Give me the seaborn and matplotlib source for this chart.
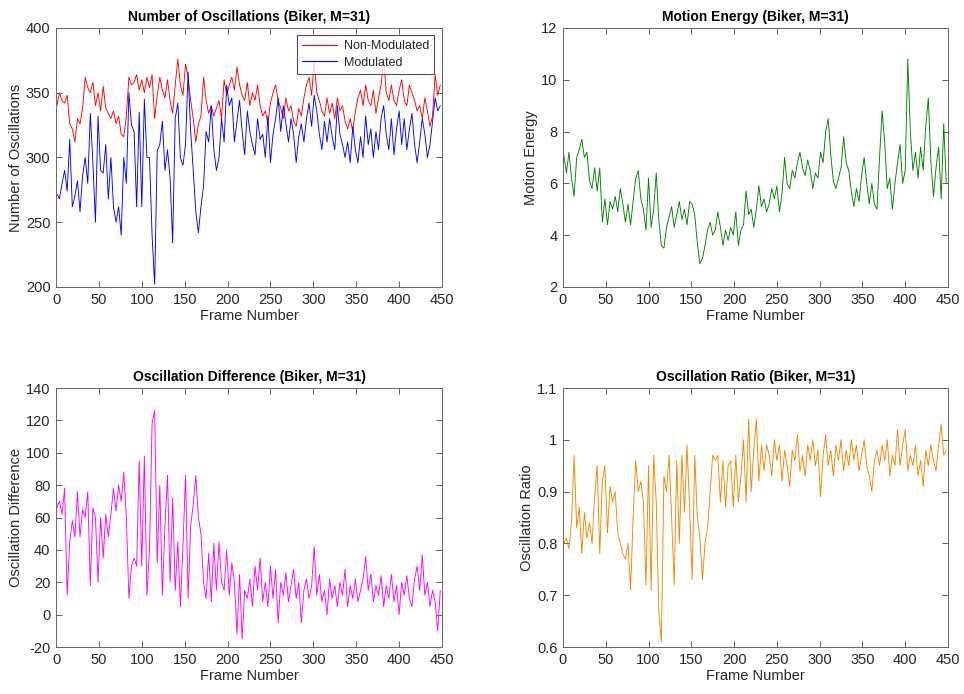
import numpy as np
import pandas as pd
import matplotlib
matplotlib.use("Agg")
import matplotlib.pyplot as plt
import seaborn as sns

# Frame numbers (every third frame of the 450-frame Biker sequence)
frames = list(range(1, 451, 3))

non_modulated = [
    340, 350, 344, 342, 348, 326, 322, 312, 330, 326,
    338, 362, 354, 350, 358, 340, 350, 336, 355, 338,
    334, 330, 336, 326, 332, 318, 316, 332, 362, 356,
    358, 364, 352, 360, 350, 362, 354, 364, 330, 348,
    362, 352, 346, 360, 344, 334, 356, 376, 356, 348,
    372, 362, 344, 330, 312, 326, 332, 362, 344, 334,
    340, 332, 338, 344, 330, 360, 348, 356, 362, 352,
    370, 356, 348, 344, 358, 340, 350, 344, 356, 340,
    332, 336, 326, 342, 350, 356, 344, 338, 330, 346,
    336, 340, 328, 324, 338, 332, 346, 356, 362, 348,
    374, 350, 344, 336, 332, 346, 334, 342, 330, 346,
    336, 340, 328, 322, 330, 320, 336, 346, 352, 340,
    356, 344, 340, 352, 334, 346, 356, 376, 350, 344,
    356, 344, 340, 352, 360, 344, 340, 356, 350, 344,
    336, 340, 330, 346, 336, 324, 332, 364, 348, 356,
]

modulated = [
    272, 268, 280, 290, 274, 314, 262, 270, 282, 258,
    286, 300, 280, 334, 296, 250, 332, 290, 288, 310,
    268, 300, 262, 250, 262, 240, 300, 280, 350, 325,
    320, 262, 335, 262, 345, 300, 300, 240, 202, 305,
    310, 328, 290, 306, 284, 234, 330, 342, 300, 294,
    310, 366, 320, 290, 258, 242, 262, 278, 320, 312,
    340, 306, 290, 300, 330, 312, 356, 340, 346, 312,
    328, 344, 320, 302, 336, 320, 310, 302, 330, 314,
    318, 300, 332, 296, 318, 330, 346, 320, 340, 326,
    312, 330, 318, 296, 316, 326, 312, 330, 342, 324,
    348, 336, 318, 306, 328, 312, 330, 316, 306, 340,
    318, 310, 300, 312, 296, 324, 306, 296, 316, 300,
    332, 310, 322, 300, 320, 306, 330, 340, 318, 306,
    330, 302, 322, 336, 310, 330, 306, 322, 334, 310,
    296, 312, 330, 318, 300, 310, 328, 346, 336, 340,
]

motion_energy = [
    7.1, 6.4, 7.2, 6.2, 5.5, 7.0, 7.3, 7.7, 7.0, 7.2,
    6.1, 5.8, 6.6, 5.7, 6.6, 4.5, 5.4, 4.4, 5.3, 5.0,
    5.5, 4.9, 5.8, 5.2, 4.5, 5.2, 4.4, 5.3, 6.2, 6.5,
    5.4, 5.0, 4.2, 6.2, 4.3, 5.0, 6.4, 4.6, 3.6, 3.5,
    4.3, 4.7, 5.1, 4.3, 4.8, 5.3, 4.6, 5.0, 4.4, 5.3,
    5.2, 4.8, 3.7, 2.9, 3.1, 3.6, 4.2, 4.5, 4.0, 4.2,
    4.9, 4.3, 3.6, 4.2, 3.8, 4.3, 4.0, 4.9, 3.6, 4.2,
    4.4, 5.7, 4.8, 5.0, 4.3, 5.0, 5.9, 5.1, 5.4, 4.9,
    5.2, 5.8, 5.4, 5.9, 4.9, 5.6, 7.0, 6.0, 5.8, 6.5,
    6.2, 6.8, 7.2, 6.6, 6.3, 6.9, 6.5, 5.8, 6.4, 6.2,
    7.2, 6.8, 8.0, 8.5, 7.1, 6.1, 5.8, 6.2, 6.6, 7.8,
    6.8, 6.5, 5.7, 5.1, 5.8, 5.3, 6.3, 7.0, 6.0, 5.2,
    6.0, 5.2, 5.0, 7.0, 8.8, 7.6, 5.8, 6.2, 5.0, 6.0,
    6.8, 7.5, 6.0, 6.5, 10.8, 8.0, 6.5, 7.2, 6.2, 7.4,
    6.5, 8.2, 9.3, 6.8, 5.5, 6.6, 7.4, 5.4, 8.3, 6.0,
]

oscillation_difference = [
    66, 70, 62, 78, 12, 45, 58, 48, 76, 48,
    65, 60, 76, 18, 66, 60, 20, 60, 35, 62,
    48, 62, 78, 64, 80, 70, 88, 60, 10, 30,
    35, 30, 95, 30, 98, 12, 40, 118, 126, 32,
    80, 12, 55, 86, 20, 72, 15, 45, 5, 42,
    86, 10, 55, 68, 86, 60, 50, 20, 10, 38,
    8, 44, 15, 45, 20, 15, 40, 12, 32, 20,
    -12, 25, -15, 15, 10, 22, 5, 30, 15, 35,
    8, 20, 5, 30, 10, 28, -5, 20, 12, 26,
    8, 18, 28, 10, 20, -5, 15, 22, 10, 18,
    42, 12, 25, 8, 15, 0, 22, 10, 18, 5,
    20, 12, 28, 5, 18, 10, 22, 8, 15, 22,
    36, 15, 25, 8, 18, 12, 24, 5, 18, 10,
    25, 8, 18, 0, 20, 12, 24, 10, 5, 22,
    30, 15, 37, 12, 20, 5, 15, 8, -10, 15,
]

oscillation_ratio = [
    0.80, 0.81, 0.79, 0.84, 0.97, 0.83, 0.87, 0.78, 0.86, 0.81,
    0.84, 0.80, 0.89, 0.95, 0.78, 0.92, 0.95, 0.82, 0.91, 0.88,
    0.90, 0.82, 0.80, 0.78, 0.77, 0.80, 0.71, 0.85, 0.96, 0.90,
    0.92, 0.88, 0.72, 0.95, 0.71, 0.97, 0.88, 0.67, 0.61, 0.93,
    0.90, 0.97, 0.85, 0.72, 0.96, 0.80, 0.97, 0.86, 0.99, 0.87,
    0.73, 0.97, 0.85, 0.81, 0.73, 0.80, 0.83, 0.90, 0.97, 0.96,
    0.97, 0.88, 0.96, 0.87, 0.95, 0.96, 0.87, 0.97, 0.88, 0.93,
    1.00, 0.88, 1.04, 0.90, 0.98, 1.04, 0.92, 0.99, 0.94, 0.99,
    0.97, 0.93, 1.00, 0.96, 0.99, 0.92, 0.98, 0.95, 0.91, 0.98,
    0.96, 1.01, 0.94, 0.97, 0.93, 0.99, 0.96, 1.00, 0.95, 0.98,
    0.89, 0.97, 1.01, 0.95, 0.98, 0.93, 0.99, 0.96, 1.00, 0.94,
    0.98, 0.95, 1.00, 0.96, 0.99, 0.94, 0.97, 1.00, 0.95, 0.93,
    0.90, 0.96, 0.98, 0.95, 0.99, 0.96, 1.00, 0.93, 0.97, 0.95,
    1.02, 0.95, 0.99, 1.02, 0.94, 0.97, 0.95, 0.99, 0.93, 0.96,
    0.91, 0.98, 0.95, 0.99, 0.96, 0.94, 0.99, 1.03, 0.97, 0.98,
]

x_ticks = [0, 50, 100, 150, 200, 250, 300, 350, 400, 450]
osc_ticks = [200, 250, 300, 350, 400]
energy_ticks = [2, 4, 6, 8, 10, 12]
diff_ticks = [-20, 0, 20, 40, 60, 80, 100, 120, 140]
ratio_ticks = [0.6, 0.7, 0.8, 0.9, 1.0, 1.1]
ratio_labels = ["0.6", "0.7", "0.8", "0.9", "1", "1.1"]

sns.set_style("white")
plt.rcParams["font.family"] = ["Liberation Sans", "DejaVu Sans"]
plt.rcParams["font.size"] = 10
plt.rcParams["axes.unicode_minus"] = False

df = pd.DataFrame({
    "frame": frames,
    "non_mod": non_modulated,
    "mod": modulated,
    "energy": motion_energy,
    "diff": oscillation_difference,
    "ratio": oscillation_ratio,
})

fig = plt.figure(figsize=(9.64, 6.94), dpi=100)
w, h = 0.4004, 0.3732
ax1 = fig.add_axes([0.0581, 0.5865, w, h])
ax2 = fig.add_axes([0.5840, 0.5865, 0.3994, h])
ax3 = fig.add_axes([0.0581, 0.0677, w, h])
ax4 = fig.add_axes([0.5840, 0.0677, 0.3994, h])

lw = 0.65
sns.lineplot(data=df, x="frame", y="non_mod", ax=ax1, color="#FF0000", lw=lw,
             label="Non-Modulated", sort=False)
sns.lineplot(data=df, x="frame", y="mod", ax=ax1, color="#0000FF", lw=lw,
             label="Modulated", sort=False)
sns.lineplot(data=df, x="frame", y="energy", ax=ax2, color="#008000", lw=lw, sort=False)
sns.lineplot(data=df, x="frame", y="diff", ax=ax3, color="#FF00FF", lw=lw, sort=False)
sns.lineplot(data=df, x="frame", y="ratio", ax=ax4, color="#F28500", lw=lw, sort=False)

specs = [
    (ax1, "Number of Oscillations (Biker, M=31)", "Number of Oscillations", osc_ticks, None),
    (ax2, "Motion Energy (Biker, M=31)", "Motion Energy", energy_ticks, None),
    (ax3, "Oscillation Difference (Biker, M=31)", "Oscillation Difference", diff_ticks, None),
    (ax4, "Oscillation Ratio (Biker, M=31)", "Oscillation Ratio", ratio_ticks, ratio_labels),
]
tick_color = "#262626"
for ax, title, ylabel, yt, ylab in specs:
    ax.set_xlim(0, 450)
    ax.set_ylim(yt[0], yt[-1])
    ax.set_xticks(x_ticks)
    ax.set_yticks(yt)
    if ylab is not None:
        ax.set_yticklabels(ylab)
    ax.set_title(title, fontsize=10, fontweight="bold", color="black", pad=5)
    ax.set_xlabel("Frame Number", fontsize=10.5, color=tick_color, labelpad=2)
    ax.set_ylabel(ylabel, fontsize=10.5, color=tick_color, labelpad=2)
    ax.tick_params(direction="in", length=4, width=0.6, colors="#444444",
                   labelcolor=tick_color, labelsize=10.5,
                   top=True, right=True, bottom=True, left=True, pad=4)
    for s in ax.spines.values():
        s.set_color("#666666")
        s.set_linewidth(0.7)

leg = ax1.legend(loc="upper right", fontsize=9, frameon=True, fancybox=False,
                 edgecolor="#222222", handlelength=2.8, borderpad=0.4,
                 labelspacing=0.35, handletextpad=0.6, borderaxespad=0.6)
leg.get_frame().set_linewidth(0.8)
for line in leg.get_lines():
    line.set_linewidth(0.8)

fig.savefig("out.png", dpi=100, facecolor="white")
